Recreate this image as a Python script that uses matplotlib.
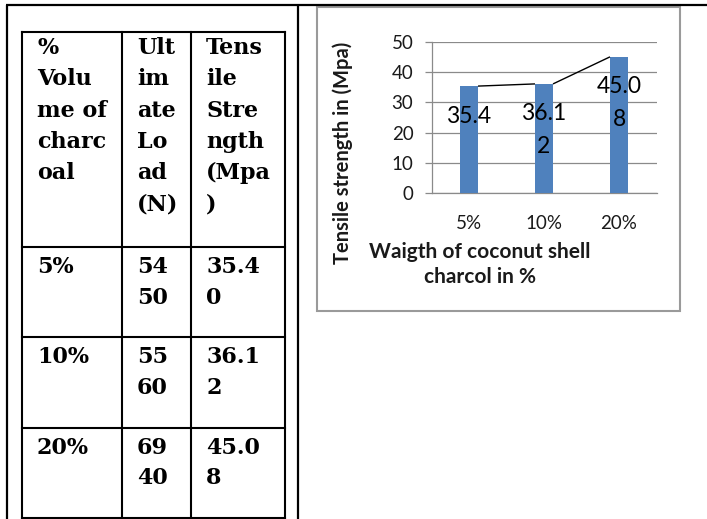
import matplotlib
matplotlib.use("Agg")
import matplotlib.pyplot as plt
from matplotlib.lines import Line2D
from matplotlib.patches import Rectangle

# ---------------- data ----------------
categories = ["5%", "10%", "20%"]
ultimate_load = [5450, 5560, 6940]
tensile_strength = [35.40, 36.12, 45.08]
chart_labels = ["35.4", "36.12", "45.08"]
header_col1 = ["%", "Volu", "me of", "charc", "oal"]
header_col2 = ["Ult", "im", "ate", "Lo", "ad", "(N)"]
header_col3 = ["Tens", "ile", "Stre", "ngth", "(Mpa", ")"]
y_ticks = [0, 10, 20, 30, 40, 50]
y_label = "Tensile strength in (Mpa)"
x_label_lines = ["Waigth of coconut shell", "charcol in %"]


def chunks(s, n):
    return [s[i:i + n] for i in range(0, len(s), n)]


W, H = 707, 519
fig = plt.figure(figsize=(W / 100, H / 100), dpi=100)
fig.patch.set_facecolor("white")

# background axes in pixel coordinates
bg = fig.add_axes([0, 0, 1, 1])
bg.set_xlim(0, W)
bg.set_ylim(H, 0)
bg.axis("off")

blk = dict(color="black", lw=1.6, solid_capstyle="butt")
# outer frame
bg.add_line(Line2D([6, W], [5, 5], **blk))
bg.add_line(Line2D([7, 7], [5, H], **blk))
bg.add_line(Line2D([298, 298], [5, H], **blk))

# table grid
tl, tr = 22, 285
col_x = [22, 122, 191, 285]
row_y = [32, 247, 337, 428, 518]
for x in col_x:
    bg.add_line(Line2D([x, x], [row_y[0], row_y[-1]], color="black", lw=1.5))
for y in row_y:
    bg.add_line(Line2D([tl, tr], [y, y], color="black", lw=1.5))

tfont = dict(family="DejaVu Serif", fontweight="bold", fontsize=16, color="black",
             ha="left", va="center")
text_x = [37, 137, 206]
line_h = 31.3
for cx, lines in zip(text_x, [header_col1, header_col2, header_col3]):
    for k, ln in enumerate(lines):
        bg.text(cx, 48 + k * line_h, ln, **tfont)

for r in range(3):
    top = row_y[r + 1]
    cells = [[categories[r]],
             chunks(str(ultimate_load[r]), 2),
             chunks("%.2f" % tensile_strength[r], 4)]
    for cx, lines in zip(text_x, cells):
        for k, ln in enumerate(lines):
            bg.text(cx, top + 20 + k * 30.5, ln, **tfont)

# chart box
bg.add_patch(Rectangle((317, 7), 680 - 317, 311 - 7, fill=False,
                       edgecolor="#9a9a9a", lw=1.5))

# ---------------- chart ----------------
px_left, px_right, px_top, px_bottom = 431.5, 656.5, 42, 193
ax = fig.add_axes([px_left / W, 1 - px_bottom / H,
                   (px_right - px_left) / W, (px_bottom - px_top) / H])
ax.set_facecolor("none")
xpos = list(range(len(categories)))
bw = 0.24
ax.bar(xpos, tensile_strength, width=bw, color="#4F81BD", zorder=3)
ax.set_xlim(-0.5, len(categories) - 0.5)
ax.set_ylim(0, 50)
ax.set_yticks(y_ticks)
ax.set_xticks(xpos)
ax.set_xticklabels(categories)
ax.yaxis.grid(True, color="#8a8a8a", lw=0.9, zorder=0)
ax.set_axisbelow(True)
for s in ["top", "right"]:
    ax.spines[s].set_visible(False)
for s in ["left", "bottom"]:
    ax.spines[s].set_color("#8a8a8a")
    ax.spines[s].set_linewidth(0.9)
ax.tick_params(axis="y", length=5, width=0.9, color="#8a8a8a", pad=8,
               labelsize=13.5)
ax.tick_params(axis="x", length=0, pad=16, labelsize=13.5)
for lab in ax.get_xticklabels() + ax.get_yticklabels():
    lab.set_fontfamily("Lato")
    lab.set_color("#1a1a1a")

# series lines joining bar tops
for i in range(len(xpos) - 1):
    ax.plot([xpos[i] + bw / 2, xpos[i + 1] - bw / 2],
            [tensile_strength[i], tensile_strength[i + 1]],
            color="black", lw=1.0, zorder=4, solid_capstyle="butt")

# data labels
for i, lab in enumerate(chart_labels):
    for k, part in enumerate(chunks(lab, 4)):
        ax.annotate(part, xy=(xpos[i], tensile_strength[i]),
                    xytext=(0, -30 - 33 * k), textcoords="offset pixels",
                    ha="center", va="center", fontsize=16.5, family="Lato",
                    color="black", zorder=5)

# axis titles
bg.text(343, 153, y_label, rotation=90, ha="center", va="center",
        fontsize=14.5, fontweight="bold", family="Lato", color="#1a1a1a")
for k, ln in enumerate(x_label_lines):
    bg.text(480, 252 + 25 * k, ln, ha="center", va="center",
            fontsize=15, fontweight="bold", family="Lato", color="#1a1a1a")

fig.savefig("out.png", dpi=100)
